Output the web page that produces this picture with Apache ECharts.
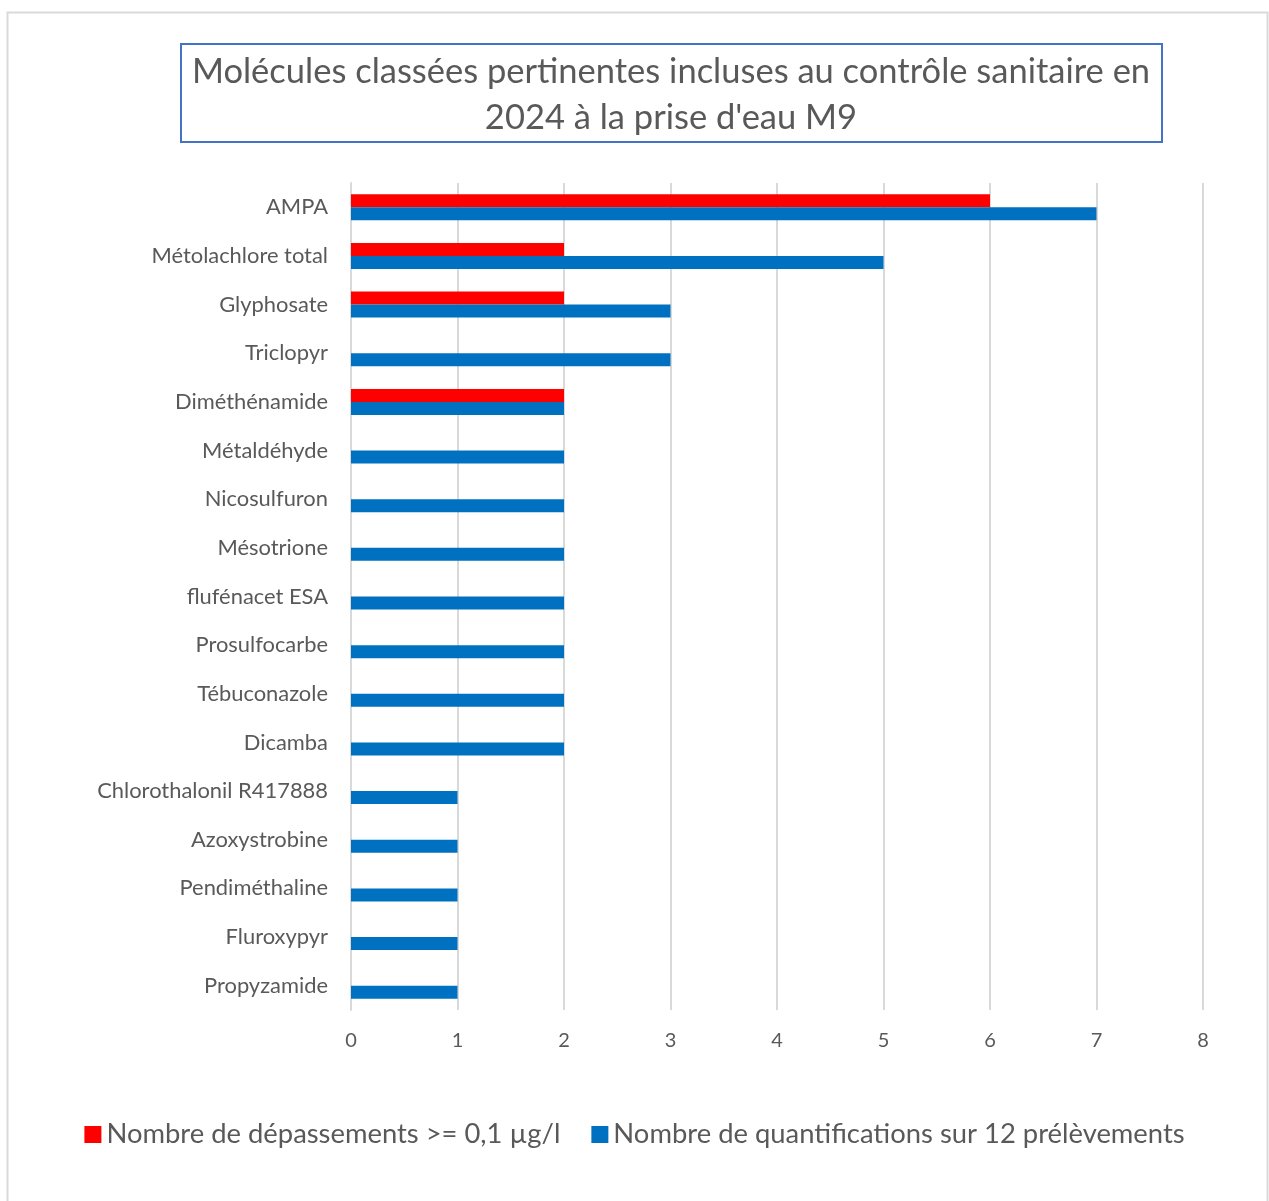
<!DOCTYPE html>
<html style="height: 100%">
  <head>
    <meta charset="utf-8" />
  </head>
  <body style="height: 100%; margin: 0; background: #fff">
    <div id="container" style="width: 1269px; height: 1201px"></div>
    <script src="https://cdn.jsdelivr.net/npm/echarts@6/dist/echarts.min.js"></script>
    <script type="text/javascript">
      var molecules = ["AMPA", "Métolachlore total", "Glyphosate", "Triclopyr", "Diméthénamide", "Métaldéhyde", "Nicosulfuron", "Mésotrione", "flufénacet ESA", "Prosulfocarbe", "Tébuconazole", "Dicamba", "Chlorothalonil R417888", "Azoxystrobine", "Pendiméthaline", "Fluroxypyr", "Propyzamide"];
      var depassements = [6, 2, 2, 0, 2, 0, 0, 0, 0, 0, 0, 0, 0, 0, 0, 0, 0];
      var quantifications = [7, 5, 3, 3, 2, 2, 2, 2, 2, 2, 2, 2, 1, 1, 1, 1, 1];
      var seriesNames = ["Nombre de dépassements >= 0,1 µg/l", "Nombre de quantifications sur 12 prélèvements"];
      var titleText = "Molécules classées pertinentes incluses au contrôle sanitaire en\n2024 à la prise d'eau M9";

      var font = "Lato, 'Open Sans', sans-serif";
      var textColor = "#595959";
      var chart = echarts.init(document.getElementById("container"));

      var option = {
        backgroundColor: "#fff",
        animation: false,
        graphic: [
          {
            // cadre extérieur
            type: "rect",
            shape: { x: 7.5, y: 12.5, width: 1260, height: 1200 },
            style: { fill: "none", stroke: "#d9d9d9", lineWidth: 2 },
            silent: true
          },
          {
            // cadre du titre
            type: "rect",
            shape: { x: 181, y: 44, width: 981, height: 98 },
            style: { fill: "none", stroke: "#4472c4", lineWidth: 2 },
            silent: true
          },
          {
            type: "text",
            x: 671,
            y: 95,
            style: {
              text: titleText,
              font: "normal 34.5px " + font,
              fill: textColor,
              align: "center",
              verticalAlign: "middle",
              lineHeight: 46
            }
          }
        ],
        legend: {
          bottom: 48,
          left: "center",
          itemWidth: 17,
          itemHeight: 17,
          itemGap: 31,
          icon: "rect",
          textStyle: { fontFamily: font, fontSize: 27.4, color: textColor },
          data: seriesNames
        },
        grid: { left: 351, right: 66, top: 183, bottom: 191 },
        xAxis: {
          type: "value",
          min: 0,
          max: 8,
          interval: 1,
          axisLine: { show: false },
          axisTick: { show: false },
          splitLine: { lineStyle: { color: "#d9d9d9", width: 2 } },
          axisLabel: { fontFamily: font, fontSize: 20, color: textColor, margin: 21 }
        },
        yAxis: {
          type: "category",
          inverse: true,
          data: molecules,
          axisLine: { lineStyle: { color: "#d9d9d9", width: 2 } },
          axisTick: { show: false },
          axisLabel: { fontFamily: font, fontSize: 21.9, color: textColor, margin: 23 }
        },
        series: [
          {
            name: seriesNames[0],
            type: "bar",
            data: depassements,
            barWidth: 13,
            barGap: "0%",
            itemStyle: { color: "#ff0000" }
          },
          {
            name: seriesNames[1],
            type: "bar",
            data: quantifications,
            barWidth: 13,
            barGap: "0%",
            itemStyle: { color: "#0070c0" }
          }
        ]
      };
      chart.setOption(option);
    </script>
  </body>
</html>
